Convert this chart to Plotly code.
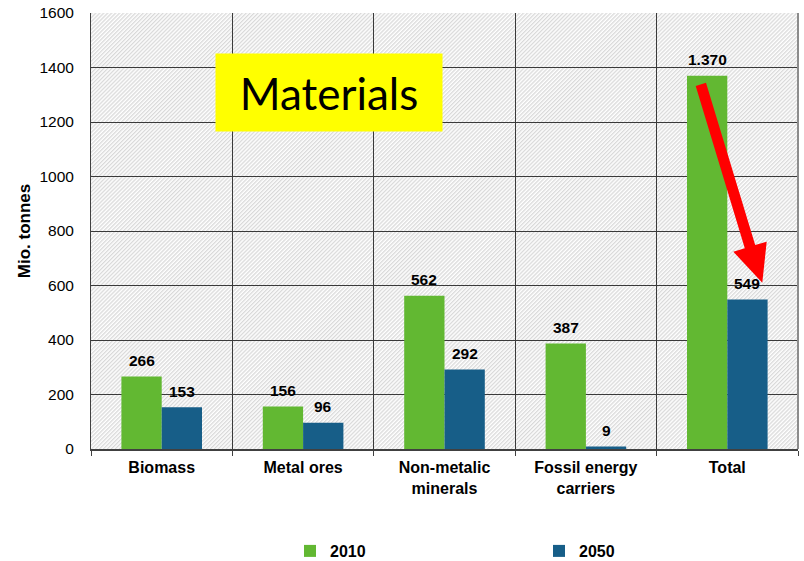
import base64
import plotly.graph_objects as go

# Material flows, million tonnes
categories = ["Biomass", "Metal ores", "Non-metalic<br>minerals", "Fossil energy<br>carriers", "Total"]
values_2010 = [266, 156, 562, 387, 1370]
values_2050 = [153, 96, 292, 9, 549]
series_names = ["2010", "2050"]
series_colors = ["#62B832", "#175E88"]

W, H = 804, 561
M_L, M_R, M_T, M_B = 91, 6, 13, 112
PW, PH = W - M_L - M_R, H - M_T - M_B

FONT = "Liberation Sans, Arial, sans-serif"

fig = go.Figure()
for name, vals, col in zip(series_names, [values_2010, values_2050], series_colors):
    fig.add_trace(go.Bar(
        name=name, x=categories, y=vals,
        marker=dict(color=col, line=dict(width=0)),
    ))

# value labels above each bar (European thousands separator)
bar_px = PW / len(categories) * (1 - 0.43) / 2
for vals, shift in [(values_2010, -bar_px / 2), (values_2050, bar_px / 2)]:
    for cat, v in zip(categories, vals):
        fig.add_annotation(
            x=cat, y=v, xref="x", yref="y",
            text=f"{v:,}".replace(",", "."),
            showarrow=False, xshift=shift, yshift=16, yanchor="middle",
            font=dict(family=FONT, size=15.5, color="#000000", weight="bold"),
        )

# diagonal hatch behind the plot area
svg = (
    f'<svg xmlns="http://www.w3.org/2000/svg" width="{PW}" height="{PH}">'
    '<defs><pattern id="h" width="2.8" height="10" patternUnits="userSpaceOnUse" '
    'patternTransform="rotate(45)">'
    '<rect width="2.8" height="10" fill="#ffffff"/>'
    '<line x1="0.7" y1="0" x2="0.7" y2="10" stroke="#d2d2d2" stroke-width="1.1"/>'
    '</pattern></defs>'
    '<rect width="100%" height="100%" fill="url(#h)"/></svg>'
)
fig.add_layout_image(
    source="data:image/svg+xml;base64," + base64.b64encode(svg.encode()).decode(),
    xref="paper", yref="paper", x=0, y=1, sizex=1, sizey=1,
    xanchor="left", yanchor="top", sizing="stretch", layer="below",
)


def to_paper(px, py):
    return (px - M_L) / PW, (M_T + PH - py) / PH


# red trend arrow on the totals
arrow_px = [(695.7, 86.0), (706.0, 82.7), (755.2, 245.0), (766.7, 241.7),
            (762.3, 282.7), (733.3, 251.7), (744.8, 248.3)]
pts = [to_paper(x, y) for x, y in arrow_px]
path = "M " + " L ".join(f"{x:.5f},{y:.5f}" for x, y in pts) + " Z"
fig.add_shape(type="path", xref="paper", yref="paper", path=path,
              fillcolor="#FF0000", line=dict(width=0), layer="above")

# right frame edge
fig.add_shape(type="line", xref="paper", yref="paper", x0=1, x1=1, y0=0, y1=1,
              line=dict(color="#8c8c8c", width=2))

# "Materials" title box
bx, by = to_paper(328.9, 92.5)
fig.add_annotation(
    x=bx, y=by, xref="paper", yref="paper", showarrow=False,
    text="Materials", width=226, height=77, borderpad=0,
    bgcolor="#FFFF00", xanchor="center", yanchor="middle",
    font=dict(family="Lato, sans-serif", size=44, color="#000000"),
)

fig.update_layout(
    width=W, height=H,
    margin=dict(l=M_L, r=M_R, t=M_T, b=M_B, autoexpand=False),
    paper_bgcolor="#ffffff", plot_bgcolor="rgba(0,0,0,0)",
    barmode="group", bargap=0.43, bargroupgap=0,
    font=dict(family=FONT, color="#000000"),
    showlegend=True,
    legend=dict(
        orientation="h", x=(290 - M_L) / PW, y=(H - 551) / H,
        xref="paper", yref="container", xanchor="left", yanchor="middle",
        entrywidth=204, entrywidthmode="pixels",
        font=dict(family=FONT, size=16, color="#000000", weight="bold"),
        bgcolor="rgba(0,0,0,0)",
    ),
)
fig.update_xaxes(
    type="category", tickson="boundaries", showgrid=True,
    gridcolor="#3a3a3a", gridwidth=1,
    showline=True, linecolor="#404040", linewidth=2,
    ticks="outside", ticklen=5, tickcolor="#404040", tickwidth=1,
    ticklabelstandoff=3,
    tickfont=dict(family=FONT, size=16, color="#000000", weight="bold"),
    automargin=False,
)
fig.update_yaxes(
    range=[0, 1600], dtick=200, showgrid=True,
    gridcolor="#3a3a3a", gridwidth=1, zeroline=False,
    showline=True, linecolor="#404040", linewidth=1,
    ticks="", ticklabelstandoff=13,
    tickfont=dict(family=FONT, size=15.5, color="#000000"),
    title=dict(text="Mio. tonnes", standoff=4,
               font=dict(family=FONT, size=17, color="#000000", weight="bold")),
    automargin=False,
)

fig.write_html("out.html")
